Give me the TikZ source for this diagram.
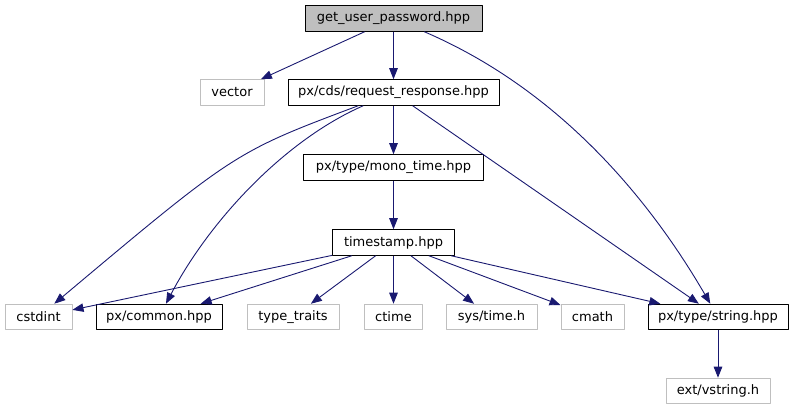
\documentclass[tikz,border=0pt]{standalone}
\usepackage{fontspec}
\setmainfont{DejaVu Sans}
\usetikzlibrary{arrows.meta}
\definecolor{edgeblue}{HTML}{191970}
\definecolor{sysgray}{HTML}{BFBFBF}

\begin{document}
\begin{tikzpicture}[x=1pt,y=-1pt,>={Triangle[length=11pt,width=8.5pt]},line join=round,
    font=\fontsize{13}{15}\selectfont,
    file/.style={draw=black,line width=1pt,minimum height=25.5pt,inner sep=0pt},
    sysfile/.style={draw=sysgray,line width=1pt,minimum height=25.5pt,inner sep=0pt},
    edge/.style={->,draw=edgeblue,line width=0.9pt}]
  \useasboundingbox (0,0) rectangle (793,411);

  % top file and its direct includes
  \node[file,fill=sysgray,minimum width=177pt] (gup) at (393.5,18.5) {get\_user\_password.hpp};
  \node[sysfile,minimum width=64pt] (vector) at (232,92.5) {vector};
  \node[file,minimum width=211pt] (reqresp) at (393.5,92.5) {px/cds/request\_response.hpp};
  \node[file,minimum width=180pt] (monotime) at (393.5,167.5) {px/type/mono\_time.hpp};
  \node[file,minimum width=122pt] (timestamp) at (393.5,242.5) {timestamp.hpp};

  % bottom row
  \node[sysfile,minimum width=67pt] (cstdint) at (38.5,317) {cstdint};
  \node[file,minimum width=126pt] (common) at (159,317) {px/common.hpp};
  \node[sysfile,minimum width=92pt] (typetraits) at (293,317) {type\_traits};
  \node[sysfile,minimum width=58pt] (ctime) at (393.5,317) {ctime};
  \node[sysfile,minimum width=91pt] (systime) at (491.5,317) {sys/time.h};
  \node[sysfile,minimum width=63pt] (cmath) at (592.5,317) {cmath};
  \node[file,minimum width=140pt] (string) at (718,317) {px/type/string.hpp};
  \node[sysfile,minimum width=104pt] (vstring) at (718,391) {ext/vstring.h};

  \draw[edge] (gup) -- (vector);
  \draw[edge] (gup) -- (reqresp);
  \draw[edge] (gup) .. controls (560,90) and (650,200) .. (string);

  \draw[edge] (reqresp) .. controls (235,152) .. (cstdint);
  \draw[edge] (reqresp) .. controls (285,140) and (210,220) .. (common);
  \draw[edge] (reqresp) -- (monotime);
  \draw[edge] (reqresp) -- (string);

  \draw[edge] (monotime) -- (timestamp);

  \foreach \dest in {cstdint,common,typetraits,ctime,systime,cmath,string}
    \draw[edge] (timestamp) -- (\dest);

  \draw[edge] (string) -- (vstring);
\end{tikzpicture}
\end{document}
